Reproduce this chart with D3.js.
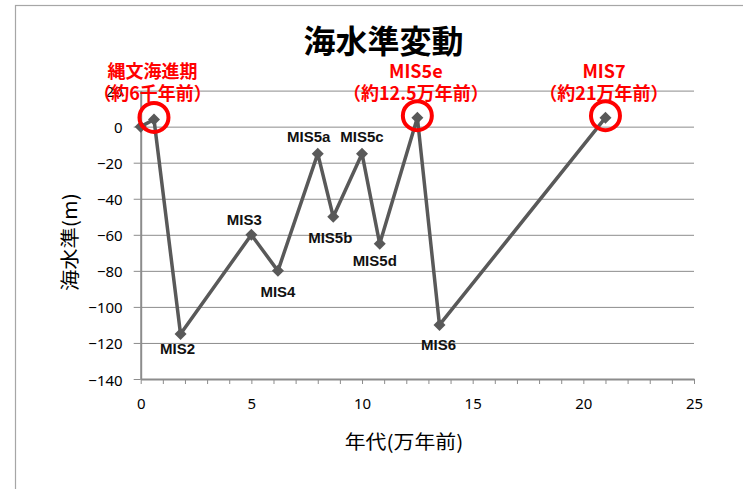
<!DOCTYPE html>
<html><head><meta charset="utf-8">
<script src="https://cdn.jsdelivr.net/npm/d3@7"></script>
<style>body{margin:0;background:#fff;} svg{display:block}</style>
</head><body>
<svg id="chart" width="743" height="489"></svg>
<script>
// ---- data ----
const ages = [0, 0.6, 1.8, 5, 6.2, 8, 8.7, 10, 10.8, 12.5, 13.5, 21];
const seaLevels = [0, 4, -115, -60, -80, -15, -50, -15, -65, 5, -110, 5];
const stageLabels = ["", "", "MIS2", "MIS3", "MIS4", "MIS5a", "MIS5b", "MIS5c", "MIS5d", "", "MIS6", ""];
const highlightIndex = [1, 9, 11];
const highlightLine1 = ["縄文海進期", "MIS5e", "MIS7"];
const highlightLine2 = ["（約6千年前）", "（約12.5万年前）", "（約21万年前）"];
const xTickLabels = [0, 5, 10, 15, 20, 25];
const yTickLabels = [20, 0, -20, -40, -60, -80, -100, -120, -140];
const titleText = "海水準変動";
const xTitle = "年代(万年前)";
const yTitle = "海水準(m)";

// ---- label placement (style, not data) ----
const labelOffset = {
  MIS2: [-3, 15], MIS3: [-7, -15], MIS4: [0, 21], MIS5a: [-9, -17],
  MIS5b: [-3, 21], MIS5c: [0, -17], MIS5d: [-5, 17], MIS6: [-1, 20]
};

const svg = d3.select("#chart");
const L = 140.7, R = 694, T = 90.6, B = 379;
const x = d3.scaleLinear().domain([0, 25]).range([L, R]);
const y = d3.scaleLinear().domain([-140, 20]).range([B, T]);
const gridColor = "#8c8c8c", lineColor = "#595959";
const cjk = "'Noto Sans CJK JP', sans-serif";

// outer border
svg.append("rect").attr("x", 15.5).attr("y", 5.5).attr("width", 900).attr("height", 700)
  .attr("fill", "none").attr("stroke", "#a6a6a6").attr("stroke-width", 1.2);

// gridlines
const grid = svg.append("g").attr("transform", `translate(${L},0)`)
  .call(d3.axisLeft(y).tickValues(yTickLabels.filter(v => v !== -140)).tickSize(-(R - L)).tickFormat(""));
grid.select(".domain").remove();
grid.selectAll("line").attr("stroke", gridColor).attr("stroke-width", 1);

// y axis
const ya = svg.append("g").attr("transform", `translate(${L},0)`)
  .call(d3.axisLeft(y).tickValues(yTickLabels).tickSize(7).tickPadding(11).tickSizeOuter(0));
ya.select(".domain").attr("stroke", gridColor).attr("stroke-width", 2);
ya.selectAll("line").attr("stroke", gridColor);
ya.selectAll("text").attr("font-family", "'Noto Sans', sans-serif").attr("font-size", 15)
  .attr("fill", "#000").attr("dy", null).attr("dominant-baseline", "central");

// x axis
const xa = svg.append("g").attr("transform", `translate(0,${B})`)
  .call(d3.axisBottom(x).tickValues(d3.range(0, 26, 1)).tickSize(5).tickSizeOuter(0)
    .tickFormat(d => xTickLabels.includes(d) ? d : ""));
xa.select(".domain").attr("stroke", gridColor).attr("stroke-width", 2);
xa.selectAll("line").attr("stroke", gridColor);
xa.selectAll("text").attr("font-family", "'Noto Sans', sans-serif").attr("font-size", 15)
  .attr("fill", "#000").attr("y", 24).attr("dy", null).attr("dominant-baseline", "central");

// series line
const pts = ages.map((a, i) => [a, seaLevels[i]]);
svg.append("path").datum(pts)
  .attr("d", d3.line().x(d => x(d[0])).y(d => y(d[1])))
  .attr("fill", "none").attr("stroke", lineColor).attr("stroke-width", 3.5).attr("stroke-linejoin", "round");

// diamonds
svg.append("g").selectAll("path").data(pts).join("path")
  .attr("d", d3.symbol(d3.symbolSquare, 72)())
  .attr("transform", d => `translate(${x(d[0])},${y(d[1])}) rotate(45)`)
  .attr("fill", lineColor);

// stage labels
svg.append("g").selectAll("text").data(pts.map((p, i) => ({p, t: stageLabels[i]})).filter(d => d.t))
  .join("text")
  .attr("x", d => x(d.p[0]) + labelOffset[d.t][0])
  .attr("y", d => y(d.p[1]) + labelOffset[d.t][1])
  .attr("text-anchor", "middle").attr("dominant-baseline", "central")
  .attr("font-family", "'Liberation Sans', Arial, sans-serif").attr("font-weight", "bold")
  .attr("font-size", 15).attr("fill", "#111").text(d => d.t);

// highlight circles and red labels
const hl = highlightIndex.map((idx, k) => ({px: x(ages[idx]), py: y(seaLevels[idx]), l1: highlightLine1[k], l2: highlightLine2[k]}));
svg.append("g").selectAll("circle").data(hl).join("circle")
  .attr("cx", d => d.px).attr("cy", d => d.py - 2).attr("r", 14.5)
  .attr("fill", "none").attr("stroke", "#ff0000").attr("stroke-width", 4);
const rl = svg.append("g").selectAll("g").data(hl).join("g");
rl.append("text").attr("x", d => d.px - 1.5).attr("y", 69.5).text(d => d.l1);
rl.append("text").attr("x", d => d.px - 1.5).attr("y", 91.5).text(d => d.l2);
rl.selectAll("text").attr("text-anchor", "middle").attr("dominant-baseline", "central")
  .attr("font-family", cjk).attr("font-weight", "bold").attr("font-size", 18).attr("fill", "#ff0000");

// title
svg.append("text").attr("x", 383.4).attr("y", 39)
  .attr("text-anchor", "middle").attr("dominant-baseline", "central")
  .attr("font-family", cjk).attr("font-weight", "bold").attr("font-size", 32)
  .attr("fill", "#000").text(titleText);

// axis titles
svg.append("text").attr("transform", "translate(404,441) scale(1.1,1)")
  .attr("text-anchor", "middle").attr("dominant-baseline", "central")
  .attr("font-family", cjk).attr("font-size", 19).attr("fill", "#000").text(xTitle);
svg.append("text").attr("transform", "translate(69,242) rotate(-90) scale(1.12,1)")
  .attr("text-anchor", "middle").attr("dominant-baseline", "central")
  .attr("font-family", cjk).attr("font-size", 19).attr("fill", "#000").text(yTitle);
</script>
</body></html>
